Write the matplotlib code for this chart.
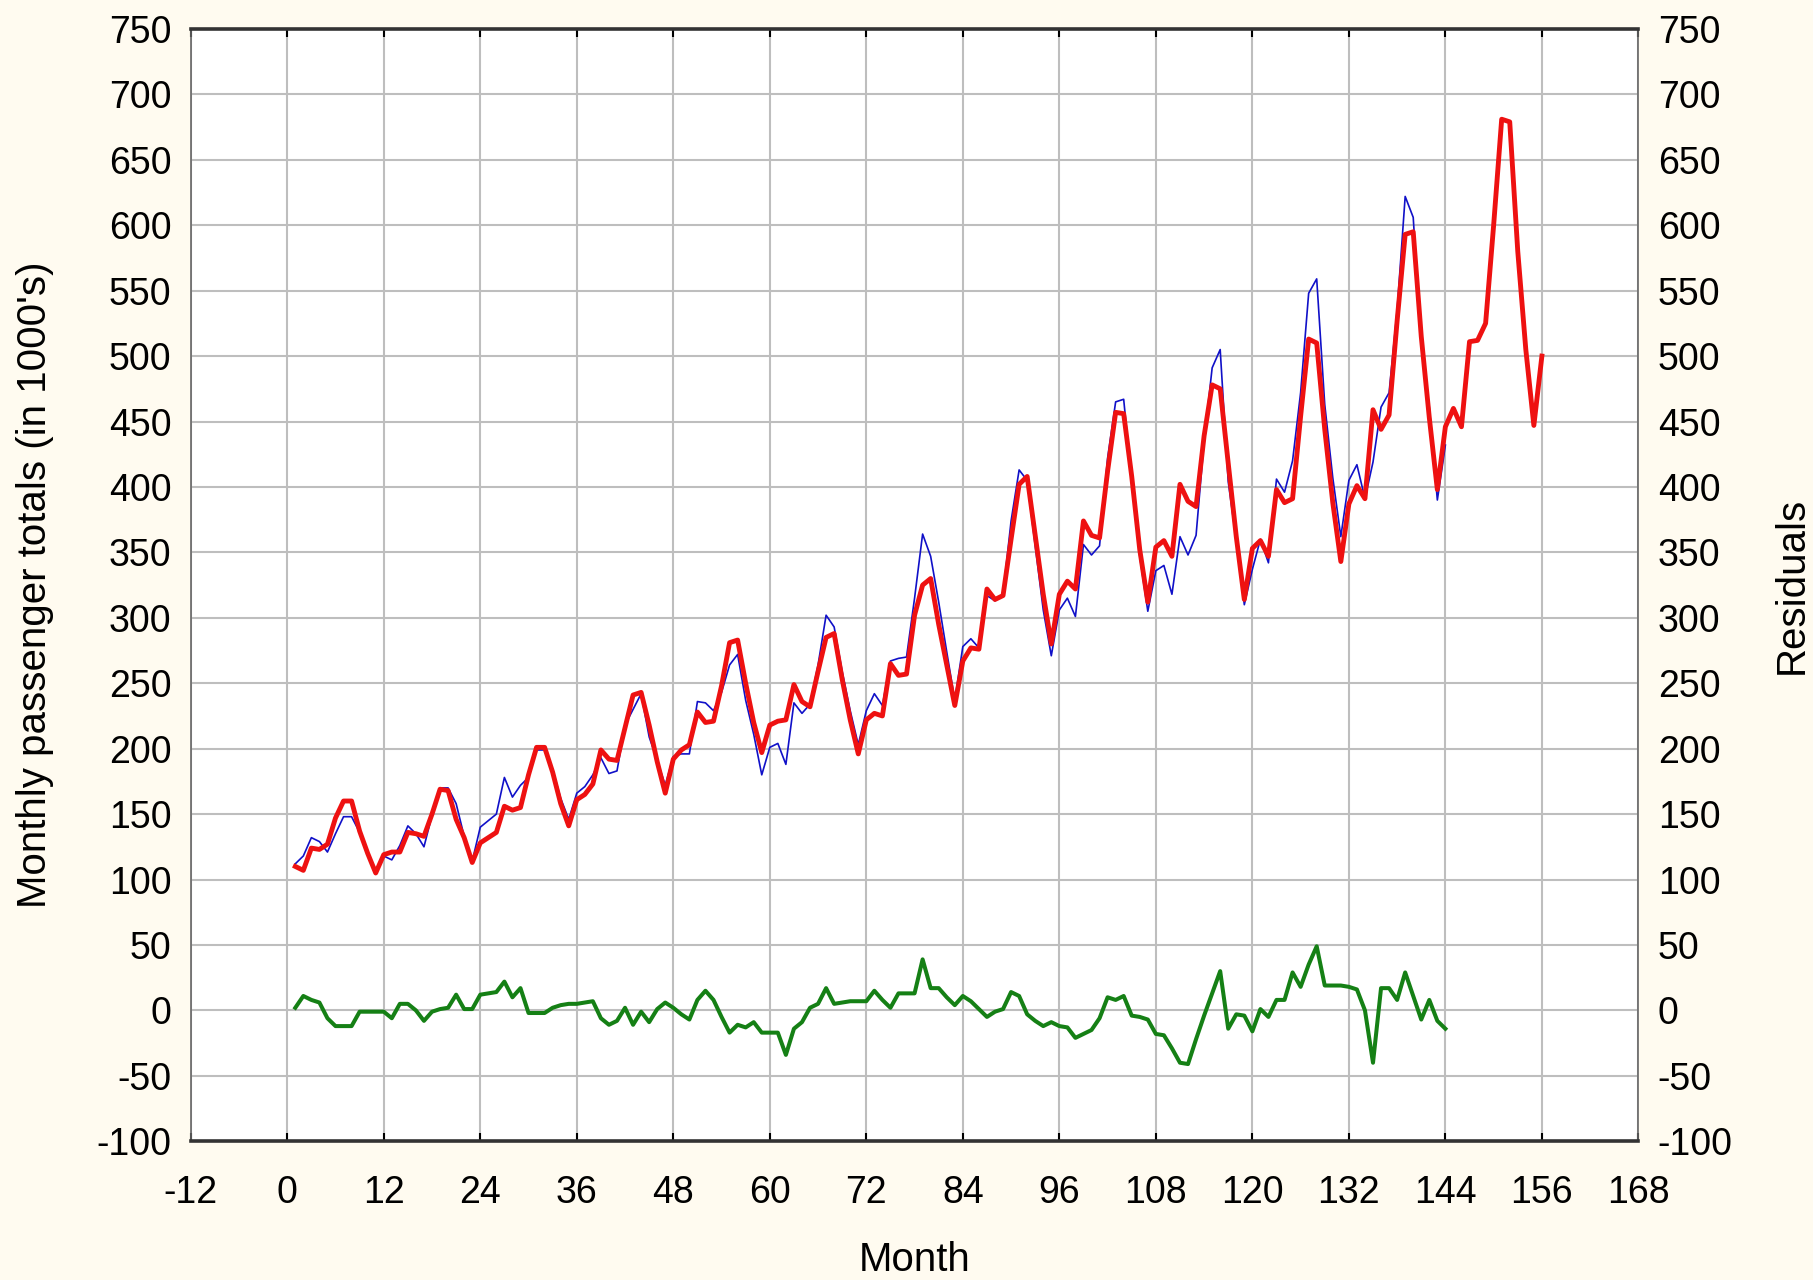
import matplotlib.pyplot as plt
import numpy as np

plt.rcParams['font.family'] = ['Liberation Sans', 'DejaVu Sans']
plt.rcParams['axes.unicode_minus'] = False

# monthly passenger totals (1000's), months 1..144
passengers = [112, 118, 132, 129, 121, 135, 148, 148, 136, 119, 104, 118,
              115, 126, 141, 135, 125, 149, 170, 170, 158, 133, 114, 140,
              145, 150, 178, 163, 172, 178, 199, 199, 184, 162, 146, 166,
              171, 180, 193, 181, 183, 218, 230, 242, 209, 191, 172, 194,
              196, 196, 236, 235, 229, 243, 264, 272, 237, 211, 180, 201,
              204, 188, 235, 227, 234, 264, 302, 293, 259, 229, 203, 229,
              242, 233, 267, 269, 270, 315, 364, 347, 312, 274, 237, 278,
              284, 277, 317, 313, 318, 374, 413, 405, 355, 306, 271, 306,
              315, 301, 356, 348, 355, 422, 465, 467, 404, 347, 305, 336,
              340, 318, 362, 348, 363, 435, 491, 505, 404, 359, 310, 337,
              360, 342, 406, 396, 420, 472, 548, 559, 463, 407, 362, 405,
              417, 391, 419, 461, 472, 535, 622, 606, 508, 461, 390, 432]

# fitted values + 12 month forecast, months 1..156
fitted = [110, 107, 124, 123, 127, 147, 160, 160, 137, 120, 105, 119,
          121, 121, 136, 135, 133, 150, 169, 168, 146, 132, 113, 128,
          132, 136, 156, 153, 155, 180, 201, 201, 182, 158, 141, 161,
          165, 173, 199, 192, 191, 216, 241, 243, 218, 190, 166, 192,
          199, 203, 228, 220, 221, 248, 281, 283, 250, 220, 197, 218,
          221, 222, 249, 236, 232, 259, 285, 288, 253, 222, 196, 222,
          227, 225, 265, 256, 257, 302, 325, 330, 295, 264, 233, 267,
          277, 276, 322, 314, 317, 360, 402, 408, 363, 318, 280, 318,
          328, 322, 374, 363, 361, 412, 457, 456, 408, 352, 312, 354,
          359, 347, 402, 389, 385, 439, 478, 475, 418, 362, 314, 353,
          359, 347, 398, 388, 391, 454, 513, 510, 444, 388, 343, 387,
          401, 391, 459, 444, 455, 527, 593, 595, 515, 453, 398, 446,
          460, 446, 511, 512, 525, 600, 681, 679, 580, 505, 447, 500]

# residuals, months 1..144
residuals = [2, 11, 8, 6, -6, -12, -12, -12, -1, -1, -1, -1,
             -6, 5, 5, 0, -8, -1, 1, 2, 12, 1, 1, 12,
             13, 14, 22, 10, 17, -2, -2, -2, 2, 4, 5, 5,
             6, 7, -6, -11, -8, 2, -11, -1, -9, 1, 6, 2,
             -3, -7, 8, 15, 8, -5, -17, -11, -13, -9, -17, -17,
             -17, -34, -14, -9, 2, 5, 17, 5, 6, 7, 7, 7,
             15, 8, 2, 13, 13, 13, 39, 17, 17, 10, 4, 11,
             7, 1, -5, -1, 1, 14, 11, -3, -8, -12, -9, -12,
             -13, -21, -18, -15, -6, 10, 8, 11, -4, -5, -7, -18,
             -19, -29, -40, -41, -22, -4, 13, 30, -14, -3, -4, -16,
             1, -5, 8, 8, 29, 18, 35, 49, 19, 19, 19, 18,
             16, 0, -40, 17, 17, 8, 29, 11, -7, 8, -8, -14]

x_ticks = list(range(-12, 169, 12))
y_ticks = list(range(-100, 751, 50))

months_obs = np.arange(1, len(passengers) + 1)
months_fit = np.arange(1, len(fitted) + 1)

bg = '#FFFBF0'
fig = plt.figure(figsize=(18.13, 12.80), dpi=100, facecolor=bg)
ax = fig.add_axes([0.1052, 0.1084, 0.7985, 0.8690])
ax.set_facecolor('white')

ax.plot(months_obs, passengers, color='#1010C8', lw=1.2, zorder=3)
ax.plot(months_fit, fitted, color='#EE1111', lw=3.5, zorder=4)
ax.plot(months_obs, residuals, color='#158015', lw=2.9, zorder=3)

ax.set_xlim(-12, 168)
ax.set_ylim(-100, 750)
ax.set_xticks(x_ticks)
ax.set_yticks(y_ticks)
ax.grid(True, color='#BEBEBE', lw=1.5, zorder=0)

for side in ['top', 'bottom']:
    ax.spines[side].set_linewidth(2.6)
    ax.spines[side].set_color('#333333')
for side in ['left', 'right']:
    ax.spines[side].set_linewidth(1.2)
    ax.spines[side].set_color('#666666')

ax.tick_params(axis='y', length=0, pad=14, labelsize=27, labelright=True)
ax.tick_params(axis='x', direction='in', length=6, width=1.5, pad=24,
               labelsize=27, top=True)

fig.text(0.5045, 0.0156, 'Month', ha='center', va='center', fontsize=29)
fig.text(0.0193, 0.543, "Monthly passenger totals (in 1000's)", ha='center',
         va='center', rotation=90, fontsize=29)
fig.text(0.9884, 0.543, 'Residuals', ha='center', va='center', rotation=90,
         fontsize=29)

fig.savefig('out.png', dpi=100, facecolor=bg)
